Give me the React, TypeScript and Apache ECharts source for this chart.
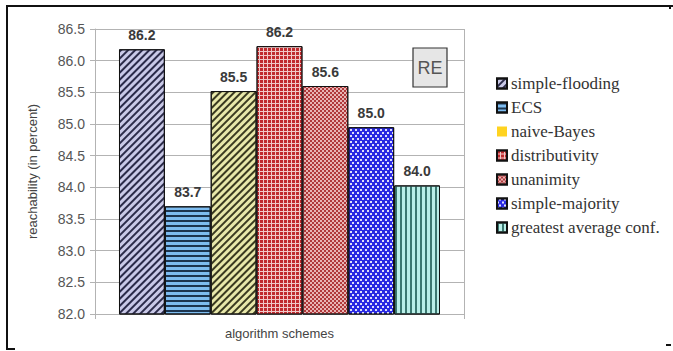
import React, { useEffect, useRef } from "react";
import * as echarts from "echarts";

const seriesNames = [
  "simple-flooding",
  "ECS",
  "naive-Bayes",
  "distributivity",
  "unanimity",
  "simple-majority",
  "greatest average conf.",
];
const seriesValues = [86.18, 83.7, 85.52, 86.23, 85.6, 84.95, 84.03];
const categories = [""];
const yTicks = { min: 82, max: 86.5, interval: 0.5 };

const styles: any[] = [
  { color: "#c9c9e8", decal: { symbol: "rect", color: "#2b2b4a", dashArrayX: [1, 0], dashArrayY: [1.4, 2.4], rotation: -Math.PI / 4 } },
  { color: "#7dbcf0", decal: { symbol: "rect", color: "#1c3550", dashArrayX: [1, 0], dashArrayY: [1.3, 2.3], rotation: 0 } },
  { color: "#e8e8aa", decal: { symbol: "rect", color: "#3a3a20", dashArrayX: [1, 0], dashArrayY: [1.4, 2.4], rotation: -Math.PI / 4 } },
  { color: "#f0c8c8", decal: { symbol: "rect", color: "#c02a2e", dashArrayX: [2.5, 1], dashArrayY: [2.5, 1], rotation: 0 } },
  { color: "#e8b4b4", decal: { symbol: "rect", color: "#b0383a", dashArrayX: [[2, 2], [0, 2, 2, 0]], dashArrayY: [2, 0], rotation: 0 } },
  { color: "#2a2ae2", decal: { symbol: "rect", color: "rgba(255,255,255,0.85)", dashArrayX: [[1.5, 2.5], [0, 2, 1.5, 0.5]], dashArrayY: [1.5, 0.5], rotation: 0 } },
  { color: "#b9efe8", decal: { symbol: "rect", color: "#3b7870", dashArrayX: [1.4, 3], dashArrayY: [1, 0], rotation: 0 } },
];

export default function App() {
  const ref = useRef<HTMLDivElement>(null);
  useEffect(() => {
    if (!ref.current) return;
    const chart = echarts.init(ref.current, null, { renderer: "svg" });
    const series = seriesNames.map((name, i) => ({
      name,
      type: "bar",
      data: [seriesValues[i]],
      barGap: "0%",
      barCategoryGap: "13%",
      itemStyle: {
        color: styles[i].color,
        decal: styles[i].decal,
        borderColor: "#111",
        borderWidth: 1,
      },
      label: {
        show: true,
        position: "top",
        distance: 7,
        formatter: (p: any) => p.value.toFixed(1),
        fontFamily: "Liberation Sans",
        fontWeight: "bold",
        fontSize: 14,
        color: "#3a3a3a",
      },
    }));
    const legendData = seriesNames.map((name, i) =>
      i === 2
        ? { name, itemStyle: { color: "#ffd320", decal: "none", borderWidth: 0 } }
        : { name }
    );
    chart.setOption({
      animation: false,
      backgroundColor: "#ffffff",
      grid: { left: 95, right: 209, top: 29, bottom: 37 },
      legend: {
        orient: "vertical",
        left: 496,
        top: 75,
        padding: 0,
        itemWidth: 10,
        itemHeight: 10,
        itemGap: 7,
        icon: "rect",
        data: legendData,
        textStyle: {
          fontFamily: "Liberation Serif",
          fontSize: 17,
          lineHeight: 16,
          color: "#333",
          padding: [0, 0, 0, -1],
        },
      },
      xAxis: {
        type: "category",
        data: categories,
        name: "algorithm schemes",
        nameLocation: "middle",
        nameGap: 13,
        nameTextStyle: { fontFamily: "Liberation Sans", fontSize: 13, color: "#444" },
        axisLine: { show: true, lineStyle: { color: "#b3b3b3" } },
        axisTick: { show: true, length: 5, lineStyle: { color: "#b3b3b3" } },
        axisLabel: { show: false },
        splitLine: { show: true, lineStyle: { color: "#b3b3b3" } },
      },
      yAxis: {
        type: "value",
        min: yTicks.min,
        max: yTicks.max,
        interval: yTicks.interval,
        name: "reachability (in percent)",
        nameLocation: "middle",
        nameGap: 56,
        nameTextStyle: { fontFamily: "Liberation Sans", fontSize: 13, color: "#444" },
        axisLine: { show: true, lineStyle: { color: "#b3b3b3" } },
        axisTick: { show: true, length: 5, lineStyle: { color: "#b3b3b3" } },
        axisLabel: {
          formatter: (v: number) => v.toFixed(1),
          fontFamily: "Liberation Sans",
          fontSize: 14,
          color: "#555",
          margin: 10,
        },
        splitLine: { show: true, lineStyle: { color: "#b3b3b3" } },
      },
      graphic: [
        { type: "line", shape: { x1: 7, y1: 6, x2: 673, y2: 6 }, style: { stroke: "#111", lineWidth: 2 } },
        { type: "line", shape: { x1: 7, y1: 5, x2: 7, y2: 350 }, style: { stroke: "#111", lineWidth: 2 } },
        { type: "line", shape: { x1: 6, y1: 349, x2: 15, y2: 349 }, style: { stroke: "#111", lineWidth: 2 } },
        { type: "line", shape: { x1: 670, y1: 6, x2: 670, y2: 9 }, style: { stroke: "#111", lineWidth: 2 } },
        { type: "line", shape: { x1: 666, y1: 345, x2: 671, y2: 345 }, style: { stroke: "#111", lineWidth: 2 } },
        {
          type: "rect",
          shape: { x: 413, y: 48, width: 34, height: 39 },
          style: { fill: "#e6e6e6", stroke: "#333", lineWidth: 1.2 },
          z: 100,
        },
        {
          type: "text",
          x: 430,
          y: 67.5,
          style: {
            text: "RE",
            fontFamily: "Liberation Sans",
            fontSize: 18,
            fill: "#555",
            align: "center",
            verticalAlign: "middle",
          },
          z: 101,
        },
      ],
      series,
    });
    return () => chart.dispose();
  }, []);
  return <div ref={ref} style={{ width: 673, height: 351, position: "absolute", left: 0, top: 0 }} />;
}
